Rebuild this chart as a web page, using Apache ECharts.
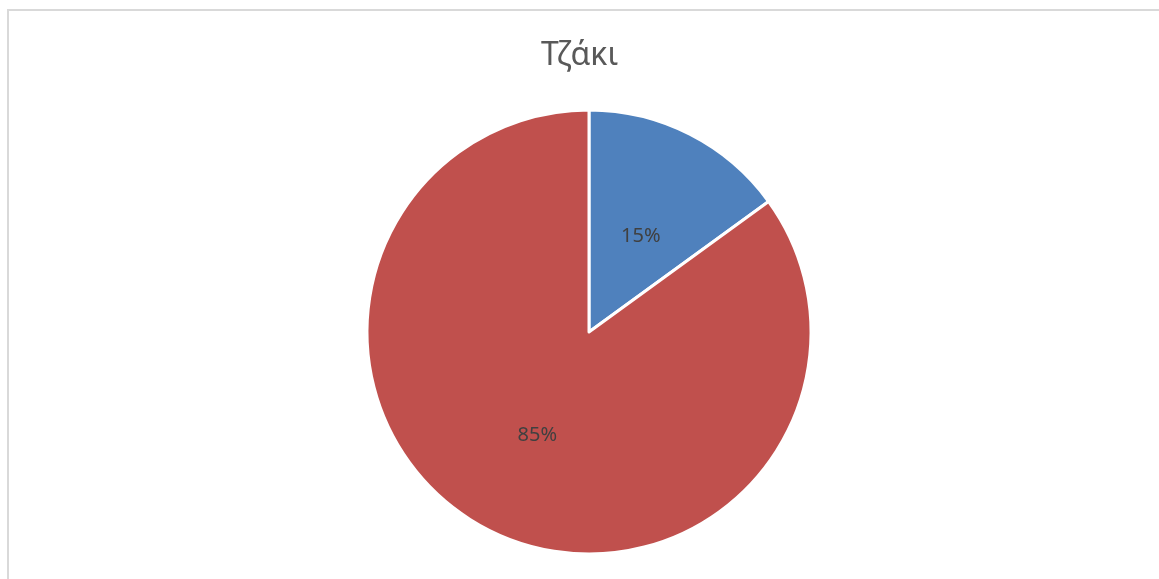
<!DOCTYPE html>
<html>
<head>
<meta charset="utf-8">
<script src="https://cdn.jsdelivr.net/npm/echarts@6/dist/echarts.min.js"></script>
<style>
  html, body { margin: 0; padding: 0; background: #ffffff; }
  #chart { width: 1159px; height: 579px; }
</style>
</head>
<body>
<div id="chart"></div>
<script>
// Share of homes with / without a fireplace
const categories = ['Ναι', 'Όχι'];
const shares = [15, 85];
const sliceColors = ['#4F81BD', '#C0504D'];
const titleText = 'Τζάκι';

const chart = echarts.init(document.getElementById('chart'), null, { renderer: 'canvas' });

chart.setOption({
  backgroundColor: '#ffffff',
  animation: false,
  title: {
    text: titleText,
    left: 'center',
    top: 35,
    textStyle: {
      fontFamily: 'Noto Sans',
      fontSize: 32,
      fontWeight: 'normal',
      color: '#595959'
    }
  },
  graphic: [{
    type: 'rect',
    shape: { x: 8, y: 10, width: 1200, height: 700 },
    style: { fill: 'none', stroke: '#d9d9d9', lineWidth: 2 },
    silent: true
  }],
  series: [{
    type: 'pie',
    center: [589, 332],
    radius: [0, 222],
    startAngle: 90,
    clockwise: true,
    itemStyle: { borderColor: '#ffffff', borderWidth: 3 },
    label: {
      show: true,
      position: 'inside',
      formatter: p => p.value + '%',
      fontFamily: 'Noto Sans',
      fontSize: 20,
      color: '#404040'
    },
    // pull the small slice's label a little toward the centre
    labelLayout: p => (p.dataIndex === 0 ? { dy: 6 } : { dy: 2 }),
    labelLine: { show: false },
    emphasis: { disabled: true },
    data: categories.map((name, i) => ({
      name,
      value: shares[i],
      itemStyle: { color: sliceColors[i] }
    }))
  }]
});
</script>
</body>
</html>
